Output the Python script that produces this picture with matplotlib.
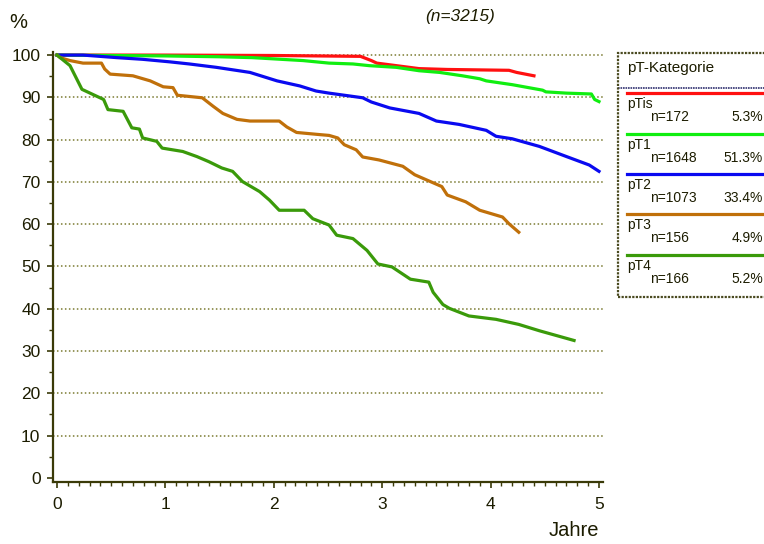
import matplotlib
matplotlib.use("Agg")
import matplotlib.pyplot as plt
from matplotlib.lines import Line2D
from matplotlib.patches import Rectangle
from matplotlib.ticker import MultipleLocator

plt.rcParams['font.family'] = ['Liberation Sans', 'DejaVu Sans']

# ---- data -------------------------------------------------------------
groups = ["pTis", "pT1", "pT2", "pT3", "pT4"]
group_n = ["n=172", "n=1648", "n=1073", "n=156", "n=166"]
group_pct = ["5.3%", "51.3%", "33.4%", "4.9%", "5.2%"]
total_label = "(n=3215)"

t_pTis = [0, 1.0, 2.0, 2.8, 2.9, 2.95, 3.13, 3.34, 3.6, 4.17, 4.24, 4.4]
s_pTis = [100, 100, 99.9, 99.7, 98.7, 98.1, 97.5, 96.8, 96.6, 96.4, 95.9, 95.1]

t_pT1 = [0, 0.5, 1.0, 1.5, 1.8, 2.27, 2.51, 2.73, 2.88, 3.13, 3.34, 3.53, 3.74,
         3.9, 3.96, 4.2, 4.48, 4.51, 4.7, 4.93, 4.96, 5.0]
s_pT1 = [100, 99.9, 99.8, 99.6, 99.4, 98.7, 98.1, 97.9, 97.5, 97.1, 96.3, 95.9, 95.1,
         94.4, 93.9, 93.0, 91.7, 91.3, 91.0, 90.8, 89.5, 89.0]

t_pT2 = [0, 0.24, 0.55, 0.79, 1.04, 1.22, 1.47, 1.78, 2.03, 2.24, 2.39, 2.51, 2.82,
         2.90, 3.07, 3.34, 3.50, 3.71, 3.96, 4.05, 4.20, 4.45, 4.70, 4.91, 5.0]
s_pT2 = [100, 100, 99.4, 99.0, 98.4, 97.9, 97.1, 95.9, 93.9, 92.7, 91.5, 91.0, 89.9,
         88.9, 87.5, 86.2, 84.4, 83.6, 82.2, 80.8, 80.2, 78.4, 76.0, 74.0, 72.5]

t_pT3 = [0, 0.03, 0.12, 0.24, 0.41, 0.44, 0.49, 0.70, 0.86, 0.98, 1.07, 1.11, 1.34,
         1.44, 1.53, 1.66, 1.78, 2.05, 2.12, 2.21, 2.42, 2.51, 2.59, 2.65, 2.76, 2.82,
         2.97, 3.19, 3.30, 3.55, 3.60, 3.77, 3.90, 4.11, 4.17, 4.26]
s_pT3 = [100, 99.4, 98.7, 98.1, 98.1, 96.7, 95.5, 95.1, 93.9, 92.5, 92.3, 90.5, 89.9,
         87.9, 86.2, 84.8, 84.4, 84.4, 83.0, 81.7, 81.2, 81.0, 80.4, 78.8, 77.6, 75.9,
         75.2, 73.7, 71.7, 68.9, 66.9, 65.3, 63.3, 61.7, 60.1, 58.1]

t_pT4 = [0, 0.12, 0.23, 0.33, 0.43, 0.47, 0.61, 0.69, 0.76, 0.79, 0.92, 0.97, 1.16,
         1.29, 1.40, 1.52, 1.62, 1.71, 1.87, 1.96, 2.05, 2.28, 2.36, 2.51, 2.58, 2.73,
         2.86, 2.96, 3.09, 3.26, 3.43, 3.47, 3.56, 3.62, 3.80, 4.05, 4.26, 4.45, 4.77]
s_pT4 = [100, 97.5, 91.9, 90.7, 89.5, 87.1, 86.7, 82.8, 82.5, 80.4, 79.6, 78.0, 77.2,
         76.0, 74.8, 73.3, 72.5, 70.1, 67.7, 65.7, 63.3, 63.3, 61.3, 59.8, 57.4, 56.6,
         53.8, 50.6, 49.9, 47.0, 46.3, 43.9, 41.0, 40.1, 38.3, 37.5, 36.3, 34.8, 32.5]

x_ticks = [0, 1, 2, 3, 4, 5]
y_ticks = [0, 10, 20, 30, 40, 50, 60, 70, 80, 90, 100]

# ---- styling ----------------------------------------------------------
colors = ["#ff1010", "#10ee10", "#0a0af0", "#c0700a", "#3a9a0a"]
axis_col = "#3a3a08"
text_col = "#1c1c00"
grid_col = "#7a7a30"

W, H = 764, 544
fig = plt.figure(figsize=(W / 100, H / 100), dpi=100)

def fx(px):
    return px / W

def fy(py):
    return 1 - py / H

ax_l, ax_r, ax_t, ax_b = 53, 603, 51.7, 481.7
ax = fig.add_axes([fx(ax_l), fy(ax_b), fx(ax_r - ax_l), (ax_b - ax_t) / H])
ax.set_xlim(-0.037, 5.037)
ax.set_ylim(-0.9, 100.8)

for sp in ["top", "right"]:
    ax.spines[sp].set_visible(False)
for sp in ["left", "bottom"]:
    ax.spines[sp].set_color(axis_col)
    ax.spines[sp].set_linewidth(1.6)

ax.set_xticks(x_ticks)
ax.set_yticks(y_ticks)
ax.xaxis.set_minor_locator(MultipleLocator(0.1))
ax.yaxis.set_minor_locator(MultipleLocator(5))
ax.tick_params(axis="both", which="major", direction="out", length=4, width=1.2,
               color=axis_col, labelcolor=text_col, labelsize=12.5)
ax.tick_params(axis="both", which="minor", direction="out", length=3, width=1.0,
               color=axis_col)
ax.tick_params(axis="x", which="major", pad=7)
ax.tick_params(axis="y", which="major", pad=5)

for yv in y_ticks[1:]:
    ax.axhline(yv, color=grid_col, linestyle=(0, (1, 1.6)), linewidth=1.1, zorder=1)

series = [(t_pTis, s_pTis), (t_pT1, s_pT1), (t_pT2, s_pT2), (t_pT3, s_pT3), (t_pT4, s_pT4)]
for (t, s), c in zip(series, colors):
    ax.plot(t, s, color=c, linewidth=2.3, solid_joinstyle="round", zorder=3)

# labels
fig.text(fx(18), fy(22), "%", fontsize=14.5, color=text_col, ha="center", va="center")
fig.text(fx(574), fy(530), "Jahre", fontsize=14.5, color=text_col, ha="center", va="center")
fig.text(fx(460), fy(17), total_label, fontsize=12.5, color=text_col, ha="center",
         va="center", style="italic")

# ---- legend box -------------------------------------------------------
box_l, box_t, box_b = 618, 53, 297
fig.patches.append(Rectangle((fx(box_l), fy(box_b)), fx(780 - box_l), (box_b - box_t) / H,
                             transform=fig.transFigure, fill=False, edgecolor="#4a4a20",
                             linewidth=1.6, linestyle=(0, (1, 0.6)), zorder=5))
fig.text(fx(627), fy(68), "pT-Kategorie", fontsize=11, color=text_col,
         ha="left", va="center")
fig.lines.append(Line2D([fx(618), fx(770)], [fy(88), fy(88)], transform=fig.transFigure,
                        color="#303070", linewidth=1.2, linestyle=(0, (1, 0.5))))

line_y = [93, 134, 174, 214, 255]
for i, (g, n, p) in enumerate(zip(groups, group_n, group_pct)):
    ly = line_y[i]
    fig.lines.append(Line2D([fx(627), fx(770)], [fy(ly), fy(ly)], transform=fig.transFigure,
                            color=colors[i], linewidth=2.3))
    fig.text(fx(627), fy(ly + 11), g, fontsize=10, color=text_col, ha="left", va="center")
    fig.text(fx(650), fy(ly + 24), n, fontsize=10, color=text_col, ha="left", va="center")
    fig.text(fx(763), fy(ly + 24), p, fontsize=10, color=text_col, ha="right", va="center")

fig.savefig("out.png", dpi=100)
